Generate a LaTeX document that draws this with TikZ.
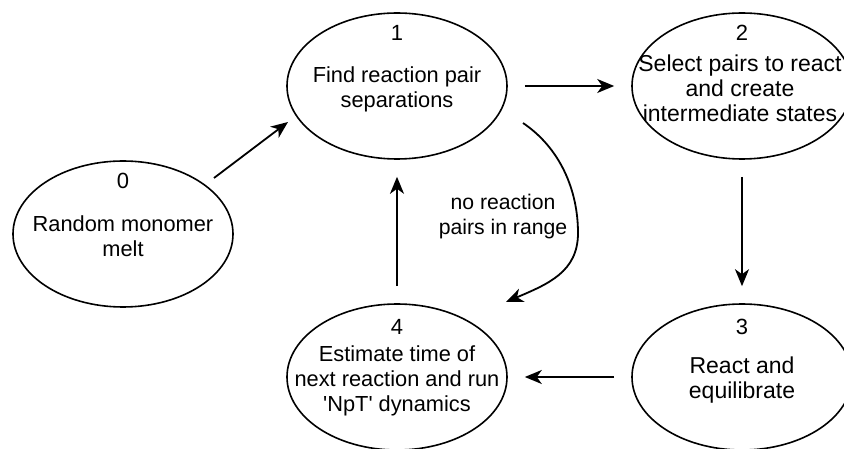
\documentclass[tikz,border=0pt]{standalone}
\usepackage{fontspec}
\setmainfont{Liberation Sans}[Ligatures=TeXOff]
\usetikzlibrary{shapes.geometric,arrows.meta}
\begin{document}
\begin{tikzpicture}[x=1pt,y=-1pt,
  ell/.style={draw=black,line width=1.6pt,ellipse,minimum width=220pt,minimum height=146pt,inner sep=0pt},
  txt/.style={align=center,inner sep=0pt,font=\fontsize{21.8}{25}\selectfont},
  bigtxt/.style={align=center,inner sep=0pt,font=\fontsize{23}{25}\selectfont},
  num/.style={inner sep=0pt,font=\fontsize{22}{25}\selectfont},
  conn/.style={line width=1.8pt,-{Stealth[length=17pt,width=14pt,inset=5pt]}},
  gap/.style={shorten <=17pt,shorten >=17pt}]
\useasboundingbox (0,0) rectangle (844,449);
\clip (0,0) rectangle (844,449);
% ellipses
\node[ell] (e0) at (123,234) {};
\node[ell] (e1) at (397,86) {};
\node[ell] (e2) at (742,86) {};
\node[ell] (e3) at (742,377) {};
\node[ell] (e4) at (397,377) {};
% numbers
\node[num] (n0) at (123,181) {0};
\node[num] (n1) at (397,33) {1};
\node[num] (n2) at (742,33) {2};
\node[num] (n3) at (742,327) {3};
\node[num] (n4) at (397,327) {4};
% texts
\node[txt] (t0) at (123,236) {Random monomer\\melt};
\node[txt] (t1) at (397,89) {Find reaction pair\\separations};
\node[bigtxt] (t2) at (740,88) {Select pairs to react\\and create\\intermediate states};
\node[bigtxt] (t3) at (742,380) {React and\\equilibrate};
\node[txt] (t4) at (397,381) {Estimate time of\\next reaction and run\\'NpT' dynamics};
\node[txt,font=\fontsize{21.2}{25}\selectfont] (lab) at (503,217) {no reaction\\pairs in range};
% connector end points
\coordinate (s01) at (214,178);
\coordinate (t01) at (288,122);
\coordinate (s14) at (523,123);
\coordinate (m14) at (578,233);
\coordinate (t14) at (506,302);
% connectors
\draw[conn] (s01) -- (t01);
\draw[conn,gap] (e1.east) -- (e2.west);
\draw[conn,gap] (e2.south) -- (e3.north);
\draw[conn,gap] (e3.west) -- (e4.east);
\draw[conn,gap] (e4.north) -- (e1.south);
\draw[conn] (s14) .. controls (560,148) and (578,190) .. (m14)
  .. controls (578,272) and (548,284) .. (t14);
\end{tikzpicture}
\end{document}
